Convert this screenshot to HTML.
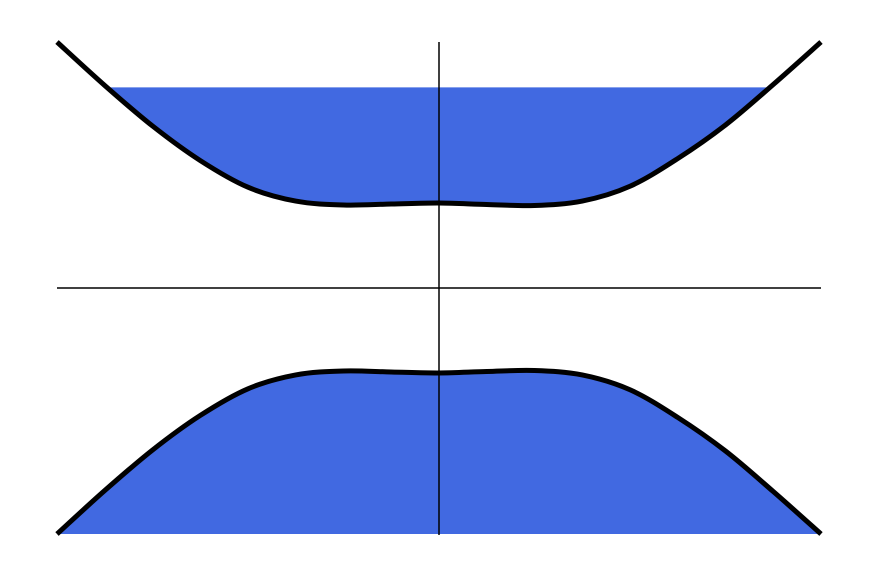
<!DOCTYPE html>
<html><head><meta charset="utf-8"><style>
html,body{margin:0;padding:0;background:#fff;width:877px;height:577px;overflow:hidden}
svg{display:block}
</style></head><body>
<svg id="chart" width="877" height="577" viewBox="0 0 877 577" xmlns="http://www.w3.org/2000/svg">
<defs><clipPath id="clipTop"><rect id="clipRect" x="0" y="0" width="877" height="577"/></clipPath></defs>
<g id="fills"></g>
<g id="axes"></g>
<g id="curves"></g>
</svg>
<script>
const kValues = [-1,-0.875,-0.75,-0.625,-0.5,-0.375,-0.25,-0.125,0,0.125,0.25,0.375,0.5,0.625,0.75,0.875,1];
const upperBand = [2.49,2.05,1.64,1.29,1.02,0.88,0.84,0.85,0.86,0.845,0.835,0.88,1.03,1.31,1.65,2.06,2.49];
const lowerBand = [-2.49,-2.05,-1.64,-1.29,-1.02,-0.88,-0.84,-0.85,-0.86,-0.845,-0.835,-0.88,-1.03,-1.31,-1.65,-2.06,-2.49];
const fillLevel = [2.03];

const NS="http://www.w3.org/2000/svg";
const xS = k => 439 + 382*k;
const yS = e => 288 - 98.8*e;

function splinePath(xs, ys){
  const p = xs.map((x,i)=>[xS(x), yS(ys[i])]);
  let d = `M${p[0][0]},${p[0][1]}`;
  for(let i=0;i<p.length-1;i++){
    const p0=p[Math.max(0,i-1)], p1=p[i], p2=p[i+1], p3=p[Math.min(p.length-1,i+2)];
    const c1=[p1[0]+(p2[0]-p0[0])/6, p1[1]+(p2[1]-p0[1])/6];
    const c2=[p2[0]-(p3[0]-p1[0])/6, p2[1]-(p3[1]-p1[1])/6];
    d += ` C${c1[0]},${c1[1]} ${c2[0]},${c2[1]} ${p2[0]},${p2[1]}`;
  }
  return d;
}
const x0=xS(kValues[0]), x1=xS(kValues[kValues.length-1]);
const yFill=yS(fillLevel[0]);
const cr=document.getElementById('clipRect');
cr.setAttribute('y', yFill);
cr.setAttribute('height', 577-yFill);

const fills=document.getElementById('fills');
const upD=splinePath(kValues, upperBand), loD=splinePath(kValues, lowerBand);

const f1=document.createElementNS(NS,'path');


f1.setAttribute('d', upD+` L${x1},0 L${x0},0 Z`);
f1.setAttribute('fill','#4169E1');
f1.setAttribute('clip-path','url(#clipTop)');
fills.appendChild(f1);

const f2=document.createElementNS(NS,'path');


f2.setAttribute('d', loD+` L${x1},${yS(-2.49)} L${x0},${yS(-2.49)} Z`);
f2.setAttribute('fill','#4169E1');
fills.appendChild(f2);

const axes=document.getElementById('axes');
const hx=document.createElementNS(NS,'line');


hx.setAttribute('x1',x0);hx.setAttribute('x2',x1);hx.setAttribute('y1',yS(0));hx.setAttribute('y2',yS(0));
hx.setAttribute('stroke','#000');hx.setAttribute('stroke-width','1.5');
axes.appendChild(hx);
const vy=document.createElementNS(NS,'line');


vy.setAttribute('x1',xS(0));vy.setAttribute('x2',xS(0));vy.setAttribute('y1',42);vy.setAttribute('y2',535);
vy.setAttribute('stroke','#000');vy.setAttribute('stroke-width','1.5');
axes.appendChild(vy);

const curves=document.getElementById('curves');
const c1=document.createElementNS(NS,'path');


c1.setAttribute('d',upD);c1.setAttribute('fill','none');c1.setAttribute('stroke','#000');c1.setAttribute('stroke-width','5');
curves.appendChild(c1);
const c2=document.createElementNS(NS,'path');


c2.setAttribute('d',loD);c2.setAttribute('fill','none');c2.setAttribute('stroke','#000');c2.setAttribute('stroke-width','5');
curves.appendChild(c2);
</script>
</body></html>
